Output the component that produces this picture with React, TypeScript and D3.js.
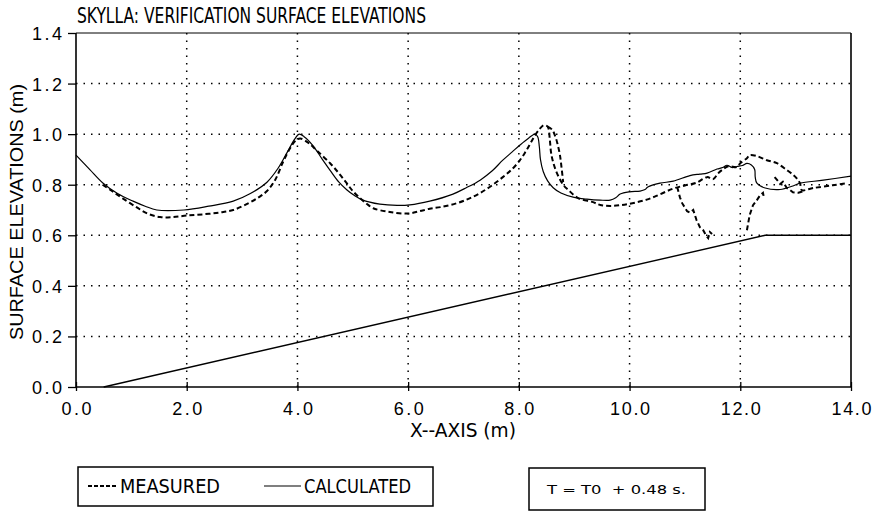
import React, { useEffect, useRef } from "react";
import * as d3 from "d3";

// Wave surface elevations along the flume, [x (m), elevation (m)]
const calculated: [number, number][] = [
  [0, 0.917], [0.25, 0.86], [0.49, 0.806], [0.75, 0.765], [1.03, 0.735], [1.25, 0.715],
  [1.46, 0.7], [1.95, 0.7], [2.4, 0.715], [2.84, 0.735], [3.15, 0.765], [3.45, 0.81],
  [3.65, 0.865], [3.82, 0.93], [3.95, 0.98], [4.03, 1.0], [4.12, 0.99], [4.28, 0.955],
  [4.45, 0.9], [4.59, 0.857], [4.75, 0.81], [4.89, 0.78], [5.03, 0.757], [5.17, 0.74],
  [5.49, 0.723], [5.8, 0.718], [6.03, 0.72], [6.39, 0.735], [6.81, 0.763], [7.05, 0.788],
  [7.3, 0.818], [7.52, 0.855], [7.71, 0.897], [7.88, 0.93], [8.02, 0.957], [8.18, 0.985],
  [8.29, 1.0], [8.34, 0.99], [8.37, 0.95], [8.39, 0.9], [8.44, 0.852], [8.52, 0.815],
  [8.62, 0.788], [8.76, 0.767], [8.98, 0.751], [9.23, 0.743], [9.47, 0.739], [9.65, 0.739],
  [9.75, 0.748], [9.83, 0.763], [10.0, 0.772], [10.19, 0.775], [10.28, 0.781], [10.33, 0.791],
  [10.55, 0.806], [10.79, 0.814], [11.09, 0.836], [11.27, 0.842], [11.4, 0.846], [11.58, 0.862],
  [11.68, 0.868], [11.76, 0.877], [11.85, 0.868], [11.94, 0.872], [12.04, 0.876], [12.12, 0.884],
  [12.2, 0.878], [12.26, 0.86], [12.27, 0.83], [12.3, 0.806], [12.45, 0.787], [12.72, 0.781],
  [12.95, 0.795], [13.08, 0.806], [13.5, 0.818], [14.0, 0.834],
];

const measured: [number, number][] = [
  [0.48, 0.8], [0.65, 0.775], [0.85, 0.745], [1.1, 0.71], [1.3, 0.685], [1.52, 0.672],
  [1.75, 0.672], [2.0, 0.678], [2.3, 0.683], [2.6, 0.69], [2.84, 0.7], [3.1, 0.725],
  [3.3, 0.75], [3.45, 0.775], [3.6, 0.82], [3.74, 0.89], [3.87, 0.945], [3.97, 0.975],
  [4.05, 0.983], [4.2, 0.965], [4.35, 0.935], [4.59, 0.885], [4.75, 0.845], [4.89, 0.806],
  [5.0, 0.775], [5.13, 0.747], [5.25, 0.725], [5.37, 0.707], [5.67, 0.692], [6.0, 0.686],
  [6.2, 0.695], [6.39, 0.705], [6.6, 0.712], [6.88, 0.727], [7.1, 0.745], [7.3, 0.767],
  [7.5, 0.795], [7.71, 0.83], [7.88, 0.862], [8.02, 0.897], [8.12, 0.93], [8.2, 0.96],
  [8.29, 0.995], [8.38, 1.022], [8.45, 1.035], [8.52, 1.03], [8.56, 0.976], [8.58, 0.93],
  [8.61, 0.897], [8.68, 0.85], [8.8, 0.8], [8.9, 0.778], [9.07, 0.747], [9.34, 0.731],
  [9.47, 0.72], [9.65, 0.716], [9.83, 0.719], [10.05, 0.727], [10.31, 0.741], [10.55, 0.762],
  [10.79, 0.785], [11.0, 0.797], [11.21, 0.808], [11.4, 0.83], [11.51, 0.822], [11.6, 0.845],
  [11.67, 0.858], [11.78, 0.873], [11.94, 0.87], [12.0, 0.885], [12.12, 0.905], [12.17, 0.917],
  [12.3, 0.913], [12.48, 0.897], [12.66, 0.885], [12.84, 0.858], [12.95, 0.84], [13.02, 0.825],
  [13.08, 0.805], [13.11, 0.779], [13.32, 0.787], [13.67, 0.798], [13.92, 0.806],
];

// Gauge traces where the measured surface splits off near the breaking zone
const measuredCrest: [number, number][] = [
  [8.52, 1.03], [8.6, 1.018], [8.66, 0.99], [8.7, 0.96], [8.74, 0.92], [8.77, 0.87], [8.8, 0.81],
];

const measuredTrough: [number, number][] = [
  [10.86, 0.791], [10.91, 0.75], [10.95, 0.727], [11.04, 0.695], [11.09, 0.69], [11.15, 0.7],
  [11.21, 0.66], [11.27, 0.632], [11.33, 0.62], [11.38, 0.6], [11.42, 0.589], [11.45, 0.613],
  [11.49, 0.605],
];

const measuredRise: [number, number][] = [
  [12.12, 0.62], [12.14, 0.645], [12.17, 0.68], [12.2, 0.7], [12.23, 0.719], [12.3, 0.739],
  [12.36, 0.759], [12.41, 0.768], [12.43, 0.745],
];

const measuredBreak: [number, number][] = [
  [12.62, 0.83], [12.66, 0.82], [12.72, 0.803], [12.77, 0.812], [12.84, 0.787], [12.9, 0.779],
  [12.95, 0.77], [13.05, 0.768], [13.15, 0.775],
];

// Sloping bed (1:20) followed by a flat shelf
const bottom: [number, number][] = [
  [0.5, 0], [12.45, 0.6], [14.0, 0.6],
];

const xTicks = [0, 2, 4, 6, 8, 10, 12, 14];
const yTicks = [0, 0.2, 0.4, 0.6, 0.8, 1.0, 1.2, 1.4];

const W = 880;
const H = 517;
const LEFT = 76;
const RIGHT = 851;
const TOP = 33;
const BOTTOM = 387;

const SANS = "'Liberation Sans', Arial, Helvetica, sans-serif";
const NARROW = "'Liberation Sans Narrow', 'Arial Narrow', 'DejaVu Sans Condensed', sans-serif";

export default function App() {
  const xAxisRef = useRef<SVGGElement>(null);
  const yAxisRef = useRef<SVGGElement>(null);

  const x = d3.scaleLinear().domain([0, 14]).range([LEFT, RIGHT]);
  const y = d3.scaleLinear().domain([0, 1.4]).range([BOTTOM, TOP]);
  const fmt = d3.format(".1f");

  const smooth = d3
    .line<[number, number]>()
    .x((d) => x(d[0]))
    .y((d) => y(d[1]))
    .curve(d3.curveCatmullRom.alpha(0.5));

  const straight = d3
    .line<[number, number]>()
    .x((d) => x(d[0]))
    .y((d) => y(d[1]));

  useEffect(() => {
    if (yAxisRef.current) {
      const g = d3.select(yAxisRef.current);
      g.selectAll("*").remove();
      g.call(
        d3.axisLeft(y).tickValues(yTicks).tickSize(8).tickPadding(6).tickFormat((d) => fmt(d as number))
      );
      g.select(".domain").remove();
      g.selectAll(".tick line").attr("stroke", "#000").attr("stroke-width", 1.3);
      g.selectAll(".tick text")
        .attr("fill", "#000")
        .attr("font-family", SANS)
        .attr("font-size", 18)
        .attr("dy", "0.36em")
        .attr("textLength", 30)
        .attr("lengthAdjust", "spacing");
    }
    if (xAxisRef.current) {
      const g = d3.select(xAxisRef.current);
      g.selectAll("*").remove();
      g.call(
        d3.axisBottom(x).tickValues(xTicks).tickSize(4).tickPadding(11).tickFormat((d) => fmt(d as number))
      );
      g.select(".domain").remove();
      g.selectAll(".tick line").attr("stroke", "#000").attr("stroke-width", 1.3).attr("y1", -5);
      g.selectAll(".tick text")
        .attr("fill", "#000")
        .attr("font-family", SANS)
        .attr("font-size", 18)
        .attr("textLength", (d) => ((d as number) >= 10 ? 40 : 30))
        .attr("lengthAdjust", "spacing");
    }
  });

  const gridX = xTicks.filter((t) => t > 0 && t < 14);
  const gridY = yTicks.filter((t) => t > 0 && t < 1.4);

  return (
    <svg
      width={W}
      height={H}
      viewBox={`0 0 ${W} ${H}`}
      style={{ position: "absolute", left: 0, top: 0, background: "#fff" }}
    >
      <rect x={0} y={0} width={W} height={H} fill="#fff" />

      {/* dotted grid */}
      <g stroke="#000" strokeWidth={1.5} strokeDasharray="1.5 6" fill="none">
        {gridX.map((t) => (
          <line key={`gx${t}`} x1={x(t)} x2={x(t)} y1={TOP} y2={BOTTOM} />
        ))}
        {gridY.map((t) => (
          <line key={`gy${t}`} x1={LEFT} x2={RIGHT} y1={y(t)} y2={y(t)} />
        ))}
      </g>

      {/* frame */}
      <g stroke="#000" fill="none">
        <line x1={LEFT} x2={LEFT} y1={TOP} y2={BOTTOM} strokeWidth={1.6} />
        <line x1={RIGHT} x2={RIGHT} y1={TOP} y2={BOTTOM} strokeWidth={1.6} />
        <line x1={LEFT} x2={RIGHT} y1={BOTTOM} y2={BOTTOM} strokeWidth={1.4} />
        <line x1={LEFT} x2={RIGHT} y1={TOP} y2={TOP} strokeWidth={1} />
      </g>

      <g ref={yAxisRef} transform={`translate(${LEFT},0)`} />
      <g ref={xAxisRef} transform={`translate(0,${BOTTOM})`} />

      {/* bed profile */}
      <path d={straight(bottom) ?? ""} fill="none" stroke="#000" strokeWidth={1.4} />

      {/* calculated surface */}
      <path d={smooth(calculated) ?? ""} fill="none" stroke="#000" strokeWidth={1.2} strokeLinejoin="round" />

      {/* measured surface */}
      <g fill="none" stroke="#000" strokeWidth={2} strokeDasharray="5 3">
        <path d={smooth(measured) ?? ""} />
        <path d={smooth(measuredCrest) ?? ""} />
        <path d={straight(measuredTrough) ?? ""} />
        <path d={straight(measuredRise) ?? ""} />
        <path d={straight(measuredBreak) ?? ""} />
      </g>

      {/* titles */}
      <text x={77} y={23} fontFamily={NARROW} fontSize={22} textLength={349} lengthAdjust="spacingAndGlyphs" fill="#000">
        SKYLLA: VERIFICATION SURFACE ELEVATIONS
      </text>
      <text
        transform="translate(23,212) rotate(-90)"
        textAnchor="middle"
        fontFamily={SANS}
        fontSize={19}
        textLength={256}
        lengthAdjust="spacingAndGlyphs"
        fill="#000"
      >
        SURFACE ELEVATIONS (m)
      </text>
      <text x={463} y={437} textAnchor="middle" fontFamily={NARROW} fontSize={19} textLength={106} lengthAdjust="spacingAndGlyphs" fill="#000">
        X--AXIS (m)
      </text>

      {/* legend */}
      <rect x={78} y={467} width={355} height={39} fill="none" stroke="#000" strokeWidth={1.5} />
      <line x1={88} x2={117} y1={486} y2={486} stroke="#000" strokeWidth={2} strokeDasharray="4 2" />
      <text x={120} y={493} fontFamily={NARROW} fontSize={19} textLength={100} lengthAdjust="spacingAndGlyphs" fill="#000">
        MEASURED
      </text>
      <line x1={264} x2={301} y1={486} y2={486} stroke="#000" strokeWidth={1.2} />
      <text x={304} y={493} fontFamily={NARROW} fontSize={19} textLength={107} lengthAdjust="spacingAndGlyphs" fill="#000">
        CALCULATED
      </text>

      <rect x={529} y={468} width={176} height={42} fill="none" stroke="#000" strokeWidth={1.5} />
      <text x={547} y={494} fontFamily={NARROW} fontSize={12} textLength={139} lengthAdjust="spacingAndGlyphs" fill="#000" style={{ whiteSpace: "pre" }}>
        {"T = T0  + 0.48 s."}
      </text>
    </svg>
  );
}
